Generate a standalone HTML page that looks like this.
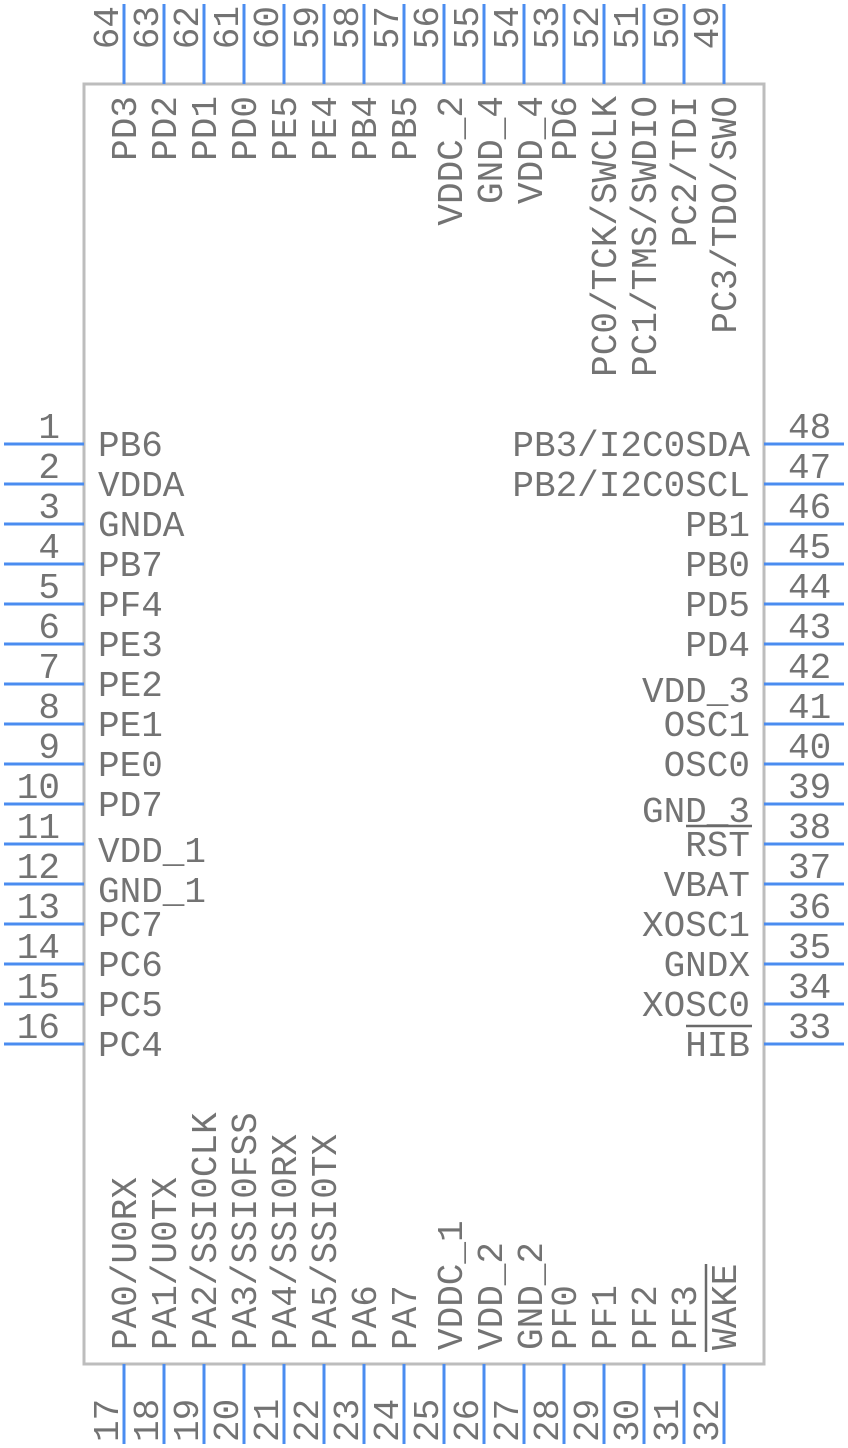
<!DOCTYPE html>
<html><head><meta charset="utf-8"><style>
html,body{margin:0;padding:0;background:#fff;width:848px;height:1448px;overflow:hidden}
svg text{font-family:"Courier New","Nimbus Mono PS","Liberation Mono",monospace;font-size:36px;fill:#737373}
</style></head><body>
<svg width="848" height="1448" xmlns="http://www.w3.org/2000/svg">
<rect x="84" y="84" width="680" height="1280" fill="#fff" stroke="#bdbdbd" stroke-width="3"/>
<g id="pins" stroke="#4a8cf0" stroke-width="3"></g>
<g id="txt"></g>
<g stroke="#6a6a6a" stroke-width="2.5">
<line x1="686" y1="826" x2="752" y2="826"/>
<line x1="686" y1="1026" x2="752" y2="1026"/>
<line x1="706" y1="1264" x2="706" y2="1352"/>
</g>
</svg>
<script>
const ns="http://www.w3.org/2000/svg";
const P=document.getElementById('pins'),T=document.getElementById('txt');
function ln(x1,y1,x2,y2){const l=document.createElementNS(ns,'line');l.setAttribute('x1',x1);l.setAttribute('y1',y1);l.setAttribute('x2',x2);l.setAttribute('y2',y2);P.appendChild(l);}
function tx(s,x,y,anchor,rot){const t=document.createElementNS(ns,'text');t.textContent=s;t.setAttribute('x',x);t.setAttribute('y',y);t.setAttribute('text-anchor',anchor);if(rot)t.setAttribute('transform','rotate(-90 '+x+' '+y+')');T.appendChild(t);}
const L=["PB6","VDDA","GNDA","PB7","PF4","PE3","PE2","PE1","PE0","PD7","VDD_1","GND_1","PC7","PC6","PC5","PC4"];
const R=["PB3/I2C0SDA","PB2/I2C0SCL","PB1","PB0","PD5","PD4","VDD_3","OSC1","OSC0","GND_3","RST","VBAT","XOSC1","GNDX","XOSC0","HIB"];
const Tp=["PD3","PD2","PD1","PD0","PE5","PE4","PB4","PB5","VDDC_2","GND_4","VDD_4","PD6","PC0/TCK/SWCLK","PC1/TMS/SWDIO","PC2/TDI","PC3/TDO/SWO"];
const B=["PA0/U0RX","PA1/U0TX","PA2/SSI0CLK","PA3/SSI0FSS","PA4/SSI0RX","PA5/SSI0TX","PA6","PA7","VDDC_1","VDD_2","GND_2","PF0","PF1","PF2","PF3","WAKE"];
for(let i=0;i<16;i++){
 const y=444+40*i, x=124+40*i;
 const us=s=>s.indexOf('_')>=0?6:0;
 ln(4,y,84,y); tx(String(i+1),60,y-6,'end'); tx(L[i],98,y+12+us(L[i]),'start');
 ln(764,y,844,y); tx(String(48-i),788,y-6,'start'); tx(R[i],750,y+12+us(R[i]),'end');
 ln(x,4,x,84); tx(String(64-i),x-6,6,'end',1); tx(Tp[i],x+12+us(Tp[i]),96,'end',1);
 ln(x,1364,x,1444); tx(String(17+i),x-6,1442,'start',1); tx(B[i],x+12+us(B[i]),1350,'start',1);
}
</script>
</body></html>
